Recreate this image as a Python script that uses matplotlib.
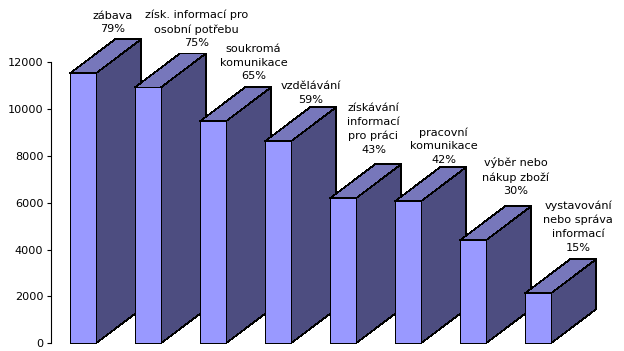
import matplotlib
matplotlib.use("Agg")
import matplotlib.pyplot as plt

categories = ["zábava\n79%", "získ. informací pro\nosobní potřebu\n75%", "soukromá\nkomunikace\n65%",
              "vzdělávání\n59%", "získávání\ninformací\npro práci\n43%", "pracovní\nkomunikace\n42%",
              "výběr nebo\nnákup zboží\n30%", "vystavování\nnebo správa\ninformací\n15%"]
values = [11530, 10930, 9480, 8626, 6192, 6064, 4398, 2135]
y_ticks = [0, 2000, 4000, 6000, 8000, 10000, 12000]

# label placement relative to the back-top of each bar (pixels)
label_dx = [29, 48, 40, 32, 30, 35, 42.5, 39.5]
label_gap = [7, 7, 8, 4.6, 11.6, 4.6, 12, 8.7]

W, H = 624, 351
PX_L, PX_B, PX_T = 50.5, 343.3, 62.3
PX_PER_CAT = 65.0
PX_C0 = 83.0
PX_PER_UNIT = (PX_B - PX_T) / 12000
BAR_W = 26 / PX_PER_CAT
DX = 45 / PX_PER_CAT
DY = 34 / PX_PER_UNIT

FRONT, SIDE, TOP = "#9999FF", "#4D4D80", "#7777BB"

plt.rcParams["font.family"] = "DejaVu Sans"
plt.rcParams["font.size"] = 8.1

fig = plt.figure(figsize=(W / 100, H / 100), dpi=100, facecolor="white")
ax = fig.add_axes([PX_L / W, (H - PX_B) / H, 1 - PX_L / W, PX_B / H])
ax.set_xlim((PX_L - PX_C0) / PX_PER_CAT, (W - PX_C0) / PX_PER_CAT)
ax.set_ylim(0, PX_B / PX_PER_UNIT)
ax.patch.set_visible(False)

style = dict(edgecolor="black", linewidth=0.5, antialiased=False, clip_on=False, joinstyle="miter")
for i, (v, lab) in enumerate(zip(values, categories)):
    l, r = i - BAR_W / 2, i + BAR_W / 2
    z = 3 + i
    ax.fill([r, r + DX, r + DX, r], [0, DY, v + DY, v], facecolor=SIDE, zorder=z, **style)
    ax.fill([l, l + DX, r + DX, r], [v, v + DY, v + DY, v], facecolor=TOP, zorder=z, **style)
    ax.fill([l, r, r, l], [0, 0, v, v], facecolor=FRONT, zorder=z, **style)
    ax.annotate(lab, xy=(i, v + DY), xytext=(label_dx[i] + 0.5, label_gap[i]), textcoords="offset pixels",
                ha="center", va="baseline", multialignment="center", linespacing=1.45,
                color="black", zorder=20)

for s in ("top", "right", "bottom"):
    ax.spines[s].set_visible(False)
ax.spines["left"].set_bounds(0, 12000)
ax.spines["left"].set_linewidth(0.8)
ax.set_yticks(y_ticks)
ax.set_xticks([])
ax.tick_params(axis="y", length=3.2, width=0.8, pad=2, colors="black")

fig.savefig("out.png", dpi=100, facecolor="white")
